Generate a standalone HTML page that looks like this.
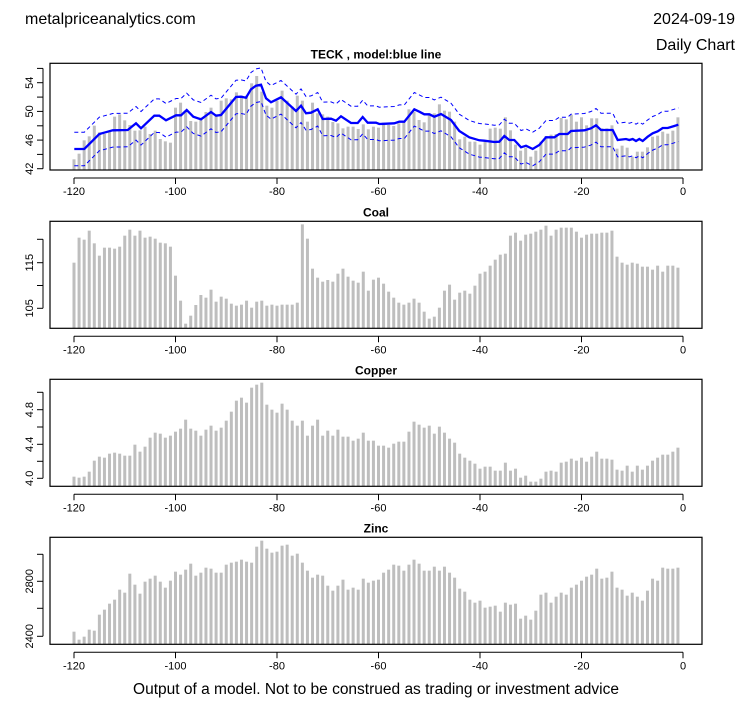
<!DOCTYPE html>
<html><head><meta charset="utf-8"><style>
body{margin:0;background:#fff;}
svg{display:block;font-family:"Liberation Sans",Arial,sans-serif;}
</style></head><body>
<svg id="s" width="753" height="708" viewBox="0 0 753 708" xmlns="http://www.w3.org/2000/svg">
<rect width="753" height="708" fill="#fff"/>
<text x="25" y="24" font-size="16">metalpriceanalytics.com</text>
<text x="735" y="24" font-size="16" text-anchor="end">2024-09-19</text>
<text x="735" y="50" font-size="16" text-anchor="end">Daily Chart</text>
<text x="376" y="694" font-size="15.5" text-anchor="middle">Output of a model. Not to be construed as trading or investment advice</text>
<g id="g"></g>
</svg>
<script>
const NS="http://www.w3.org/2000/svg";
const g=document.getElementById('g');
function el(t,a,txt){const e=document.createElementNS(NS,t);for(const k in a)e.setAttribute(k,a[k]);if(txt!==undefined)e.textContent=txt;g.appendChild(e);return e;}
function X(k){return 74+(k+120)*5.075;}
function panel(p){
  for(let i=0;i<p.tops.length;i++){
    const k=-120+i;const top=p.base+p.tops[i]/3;
    el('rect',{x:X(k)-1.5,y:top,width:3,height:p.bot-top,fill:'#bebebe'});
  }
  el('rect',{x:50,y:p.top,width:652,height:p.bot-p.top,fill:'none',stroke:'#000','stroke-width':1.2});
  el('text',{x:376,y:p.top-5,'font-size':12,'font-weight':'bold','text-anchor':'middle'},p.title);
  el('line',{x1:X(-120),x2:X(0),y1:p.bot+8,y2:p.bot+8,stroke:'#000'});
  for(let v=-120;v<=0;v+=20){
    el('line',{x1:X(v),x2:X(v),y1:p.bot+8,y2:p.bot+14,stroke:'#000'});
    el('text',{x:X(v),y:p.bot+25,'font-size':11,'text-anchor':'middle'},String(v));
  }
  const ys=p.yt.map(t=>t[0]);
  el('line',{x1:43,x2:43,y1:Math.min(...ys),y2:Math.max(...ys),stroke:'#000'});
  for(const [y,l] of p.yt){
    el('line',{x1:37,x2:43,y1:y,y2:y,stroke:'#000'});
    if(l) el('text',{x:0,y:0,'font-size':11,'text-anchor':'middle',transform:`translate(33,${y}) rotate(-90)`},l);
  }
}
const teck=[298,281,241,229,197,217,222,215,170,163,181,195,212,211,200,222,212,237,244,248,
143,128,153,183,185,173,156,143,163,122,115,118,97,107,107,70,48,95,
137,143,122,92,122,140,107,122,185,128,160,163,170,186,190,205,200,200,207,193,208,200,
203,188,195,198,190,186,148,155,180,187,160,160,133,152,155,185,238,230,245,245,
254,245,206,203,206,172,211,254,272,263,290,272,245,228,224,222,174,178,164,185,
172,196,175,175,205,205,196,266,257,263,290,275,275,262,230,227,215,221,212,172];
const coal=[188,113,119,92,130,167,143,143,146,140,107,89,107,92,113,110,116,128,130,140,
227,302,371,347,315,285,293,269,305,290,296,311,317,314,302,323,305,302,317,314,317,314,314,314,308,
73,116,206,233,245,240,245,221,206,230,242,248,215,272,239,233,
251,275,293,308,314,308,296,308,335,356,350,323,272,254,299,278,272,281,257,
221,215,197,179,164,161,107,98,122,104,101,95,89,77,107,89,83,83,83,95,113,104,101,101,98,98,92,170,188,194,188,191,200,200,209,197,215,197,197,203];
const copper=[350,353,350,335,302,290,293,281,278,281,287,287,254,275,260,233,218,221,233,227,
215,206,179,206,212,227,209,197,212,203,182,155,122,113,128,83,74,68,
134,149,158,131,149,182,197,182,227,197,179,227,212,227,209,230,230,242,236,218,242,242,257,
257,263,251,245,245,215,185,194,203,197,221,200,218,236,248,281,293,302,311,
326,320,320,332,332,308,332,326,353,347,365,365,356,335,332,335,308,305,296,302,
293,305,290,275,296,296,299,329,332,317,335,317,329,317,302,293,284,284,275,263];
const zinc=[341,365,356,335,338,290,275,257,245,215,224,167,200,227,191,182,173,191,209,188,
161,170,155,137,173,164,149,152,164,164,140,134,131,125,131,134,
86,68,92,104,101,83,80,113,107,134,158,179,170,173,203,218,203,185,215,209,215,182,194,188,185,
164,155,140,143,158,140,125,137,158,158,146,158,146,164,179,212,221,245,254,
248,269,266,263,281,254,260,257,302,293,305,278,230,224,254,236,224,230,209,200,
188,176,170,152,182,179,161,209,215,233,224,236,248,218,182,188,149,152,152,149];
panel({tops:teck,base:60,top:63.3,bot:170,title:'TECK , model:blue line',
 yt:[[168.7,'42'],[154.4,''],[140.1,'46'],[125.8,''],[111.4,'50'],[97.1,''],[82.7,'54'],[68.4,'']]});
panel({tops:coal,base:200,top:221.3,bot:328.3,title:'Coal',
 yt:[[308.3,'105'],[285.5,''],[262.7,'115'],[239.3,'']]});
panel({tops:copper,base:360,top:379.3,bot:486.3,title:'Copper',
 yt:[[478.3,'4.0'],[461.3,''],[444.3,'4.4'],[427,''],[409.7,'4.8'],[392.3,'']]});
panel({tops:zinc,base:518,top:537.3,bot:644.3,title:'Zinc',
 yt:[[636.3,'2400'],[608.3,''],[581.3,'2800'],[554.3,'']]});
const L9=[[43,267],[73,267],[118,222],[143,215],[158,211],[203,210],[228,190],[243,205],[283,167],[298,167],[318,181],[348,166],[363,166],[380,150],[400,170],[423,178],[453,156],[468,167],[483,165],[528,111],[543,110],[558,113],[573,88],[588,77],[603,74],[618,115],[633,127],[663,112],[708,153],[723,137],[738,160],[753,158],[773,148],[788,177],[813,176],[828,182],[843,169],[873,189],[893,189],[908,171],[923,188],[948,188]];
const L10=[[28,192],[73,190],[88,185],[103,185],[133,148],[148,155],[163,163],[178,163],[193,170],[213,162],[243,180],[268,213],[298,232],[328,241],[343,242],[373,246],[388,245],[403,228],[418,240],[433,240],[453,262],[468,257],[488,267],[508,255],[528,232],[553,232],[568,222],[593,222],[603,213],[643,211],[663,205],[678,196],[693,210],[728,210],[743,240],[768,237],[778,240],[788,237],[798,243],[808,237],[818,243],[833,230],[848,220],[863,214],[878,204],[893,204],[913,198],[925,194]];
const pts=L9.map(p=>[60+p[0]/3,60+p[1]/3]).concat(L10.map(p=>[370+p[0]/3,60+p[1]/3]));
function pl(off){return pts.map(p=>p[0].toFixed(1)+','+(p[1]+off).toFixed(1)).join(' ');}
el('polyline',{points:pl(-16.8),fill:'none',stroke:'#0000ff','stroke-width':1,'stroke-dasharray':'4,3'});
el('polyline',{points:pl(16.8),fill:'none',stroke:'#0000ff','stroke-width':1,'stroke-dasharray':'4,3'});
el('polyline',{points:pl(0),fill:'none',stroke:'#0000ff','stroke-width':2.3});
</script>
</body></html>
